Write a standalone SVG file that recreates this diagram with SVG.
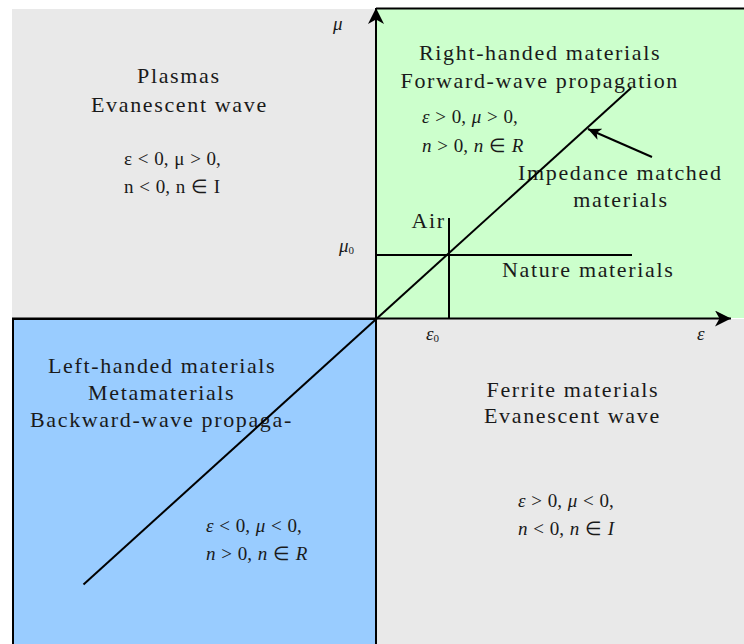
<svg xmlns="http://www.w3.org/2000/svg" width="744" height="644" viewBox="0 0 744 644">
<style>
.h{font-family:"Liberation Serif","Times New Roman",serif;font-size:22px;letter-spacing:1.65px;fill:#1a1a1a}
.m{font-family:"Liberation Serif","Times New Roman",serif;font-size:19px;word-spacing:1px;fill:#1a1a1a}
.i{font-style:italic}
.ln{stroke:#000;stroke-width:2;fill:none}
.gray{fill:#e9e9e9}
</style>
<defs>
<marker id="ah" markerUnits="userSpaceOnUse" markerWidth="17" markerHeight="16" refX="16" refY="8" orient="auto" viewBox="0 0 17 16">
<path d="M0,0 L16,8 L0,16 L4.5,8 Z" fill="#000"/>
</marker>
<marker id="ah2" markerUnits="userSpaceOnUse" markerWidth="14" markerHeight="12" refX="13" refY="6" orient="auto" viewBox="0 0 14 12">
<path d="M0,0 L13,6 L0,12 L3.5,6 Z" fill="#000"/>
</marker>
</defs>
<rect width="744" height="644" fill="#fff"/>
<g id="plasmas">
<rect class="gray" x="12" y="9" width="364" height="309"/>
<text class="h" x="137" y="83">Plasmas</text>
<text class="h" x="91" y="112">Evanescent wave</text>
<text class="m" x="124" y="165">ε &lt; 0, μ &gt; 0,</text>
<text class="m" x="124" y="193">n &lt; 0, n ∈ I</text>
</g>
<g id="right-handed">
<rect x="376" y="8" width="368" height="310" fill="#ccffcc"/>
<line x1="376" y1="8.5" x2="744" y2="8.5" stroke="#000" stroke-width="2"/>
<text class="h" x="419" y="60">Right-handed materials</text>
<text class="h" x="400.5" y="88">Forward-wave propagation</text>
<text class="m" x="422" y="123"><tspan class="i">ε</tspan> &gt; 0, <tspan class="i">μ</tspan> &gt; 0,</text>
<text class="m" x="422" y="152"><tspan class="i">n</tspan> &gt; 0, <tspan class="i">n</tspan> ∈ <tspan class="i">R</tspan></text>
</g>
<g id="left-handed">
<rect x="13" y="319" width="363" height="330" fill="#99ccff" stroke="#000" stroke-width="2"/>
<text class="h" x="48" y="372.5">Left-handed materials</text>
<text class="h" x="88" y="400">Metamaterials</text>
<text class="h" x="30" y="427">Backward-wave propaga-</text>
<text class="m" x="206" y="531.5"><tspan class="i">ε</tspan> &lt; 0, <tspan class="i">μ</tspan> &lt; 0,</text>
<text class="m" x="206" y="560"><tspan class="i">n</tspan> &gt; 0, <tspan class="i">n</tspan> ∈ <tspan class="i">R</tspan></text>
</g>
<g id="ferrite">
<rect class="gray" x="377" y="319" width="367" height="325"/>
<text class="h" x="486.5" y="397">Ferrite materials</text>
<text class="h" x="484" y="423">Evanescent wave</text>
<text class="m" x="518" y="506.5"><tspan class="i">ε</tspan> &gt; 0, <tspan class="i">μ</tspan> &lt; 0,</text>
<text class="m" x="518" y="535"><tspan class="i">n</tspan> &lt; 0, <tspan class="i">n</tspan> ∈ <tspan class="i">I</tspan></text>
</g>
<g id="labels">
<text class="m i" x="333" y="30">μ</text>
<text class="m" x="339" y="251.5"><tspan class="i">μ</tspan><tspan font-size="11" dy="2">0</tspan></text>
<text class="m" x="426" y="340"><tspan class="i">ε</tspan><tspan font-size="11" dy="2">0</tspan></text>
<text class="m i" x="697" y="340">ε</text>
<text class="h" x="411.5" y="228">Air</text>
<text class="h" x="502" y="276.5">Nature materials</text>
<text class="h" x="518" y="180">Impedance matched</text>
<text class="h" x="573.3" y="206.5">materials</text>
</g>
<g id="connectors">
<line class="ln" x1="12" y1="318.5" x2="731" y2="318.5" marker-end="url(#ah)"/>
<line class="ln" x1="376" y1="644" x2="376" y2="8" marker-end="url(#ah)"/>
<line class="ln" x1="83.5" y1="584.5" x2="631" y2="88"/>
<line class="ln" x1="376" y1="255" x2="632" y2="255"/>
<line class="ln" x1="449" y1="218" x2="449" y2="318"/>
<line class="ln" x1="652" y1="157" x2="588" y2="129" stroke-width="2.5" marker-end="url(#ah2)"/>
</g>
</svg>
